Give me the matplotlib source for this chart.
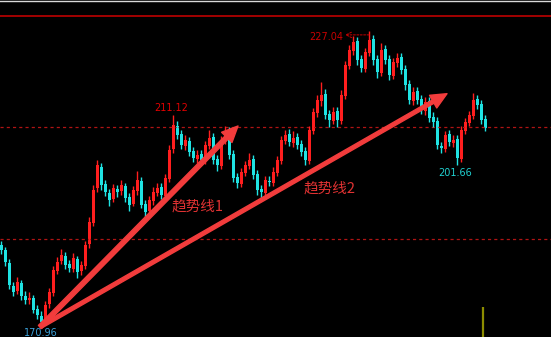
import numpy as np
import matplotlib
matplotlib.use('Agg')
from matplotlib import pyplot as plt
from matplotlib.lines import Line2D

# K线数据 (开, 收, 高, 低)
opens = [186.5, 185.6, 183.1, 178.7, 177.8, 179.3, 176.9, 176.0, 176.4, 174.3,
         173.1, 172.2, 175.3, 177.4, 181.6, 183.5, 184.4, 182.9, 182.0, 183.8,
         181.6, 182.5, 186.7, 190.7, 197.2, 201.3, 198.1, 196.3, 195.2, 197.1,
         196.7, 197.7, 195.6, 194.3, 196.7, 198.6, 194.3, 192.9, 194.8, 196.3,
         197.5, 195.8, 199.0, 204.7, 209.0, 207.5, 205.2, 206.2, 204.3, 202.8,
         203.7, 202.4, 205.2, 207.0, 202.8, 201.5, 206.2, 208.1, 203.7, 199.4,
         198.0, 200.1, 201.5, 202.8, 200.0, 197.1, 196.3, 198.6, 198.2, 200.1,
         202.4, 206.2, 207.5, 205.8, 206.9, 205.6, 204.3, 202.4, 208.1, 211.5,
         213.8, 215.1, 211.3, 210.0, 211.9, 210.0, 214.7, 220.4, 223.2, 225.2,
         221.7, 219.8, 222.9, 225.5, 221.7, 219.1, 223.6, 221.7, 218.5, 221.0,
         222.1, 219.9, 217.0, 213.8, 215.7, 214.2, 211.9, 213.8, 210.8, 210.0,
         205.2, 204.7, 207.5, 205.8, 206.6, 202.8, 208.1, 209.6, 210.9, 214.2,
         213.2, 210.4]
closes = [185.5, 183.3, 178.9, 177.6, 179.5, 176.8, 176.1, 176.5, 174.2, 173.3,
          171.9, 175.1, 177.6, 181.8, 183.3, 184.6, 182.7, 182.1, 184.0, 181.4,
          182.7, 186.5, 190.9, 196.9, 201.7, 197.9, 196.5, 195.0, 197.3, 196.5,
          197.9, 195.4, 194.1, 196.9, 198.8, 194.1, 192.7, 195.0, 196.5, 197.3,
          196.0, 199.2, 204.5, 209.2, 207.3, 205.4, 206.4, 204.1, 203.0, 203.5,
          202.6, 205.4, 206.8, 202.6, 201.7, 206.4, 207.9, 203.5, 199.2, 198.2,
          200.3, 201.7, 202.6, 199.8, 196.9, 196.5, 198.8, 198.4, 200.3, 202.6,
          206.4, 207.3, 206.0, 206.8, 205.4, 204.1, 202.6, 208.3, 211.7, 214.0,
          214.9, 211.1, 210.2, 211.7, 210.2, 214.9, 220.6, 223.4, 225.0, 221.5,
          220.0, 223.1, 225.3, 221.5, 219.3, 223.4, 221.5, 218.7, 221.2, 221.9,
          219.7, 216.8, 214.0, 215.5, 214.0, 212.1, 213.6, 210.6, 209.8, 205.4,
          204.9, 207.3, 206.0, 206.4, 203.0, 208.3, 209.8, 211.1, 214.0, 213.0,
          210.2, 208.7]
highs = [187.3, 186.2, 183.8, 179.5, 180.4, 179.9, 177.8, 177.6, 177.0, 175.2,
         174.0, 175.9, 178.3, 182.5, 184.2, 185.8, 185.1, 183.7, 184.9, 184.4,
         183.5, 187.3, 191.8, 197.8, 202.6, 202.0, 198.9, 197.1, 198.1, 197.9,
         198.8, 198.3, 196.3, 197.6, 200.6, 199.3, 195.1, 195.8, 197.4, 198.2,
         198.3, 200.0, 205.4, 211.12, 210.0, 208.2, 207.3, 207.0, 205.1, 204.4,
         204.5, 206.2, 208.3, 207.8, 203.5, 207.2, 209.0, 208.8, 204.4, 200.2,
         201.1, 202.5, 204.0, 203.5, 200.7, 197.9, 199.6, 199.5, 201.2, 203.4,
         207.2, 208.3, 208.4, 208.1, 207.7, 206.4, 205.0, 209.1, 212.5, 215.0,
         217.4, 216.0, 212.0, 212.6, 212.7, 215.8, 221.4, 224.3, 226.0, 225.9,
         222.4, 223.9, 227.04, 226.3, 222.4, 224.7, 224.4, 222.5, 222.0, 222.8,
         222.9, 220.6, 217.7, 216.5, 216.4, 214.9, 214.5, 214.5, 211.6, 210.7,
         206.0, 208.1, 208.2, 207.3, 207.3, 209.0, 210.6, 211.9, 215.3, 214.9,
         213.9, 211.1]
lows = [184.8, 182.6, 178.2, 176.8, 177.2, 176.0, 175.3, 175.4, 173.6, 172.5,
        170.96, 171.6, 174.6, 176.9, 181.0, 182.9, 182.0, 181.3, 181.4, 180.3,
        180.8, 181.9, 186.0, 190.1, 196.5, 197.0, 195.7, 193.9, 194.6, 195.6,
        196.0, 194.6, 193.0, 193.8, 196.0, 193.5, 191.2, 192.2, 194.1, 195.7,
        195.2, 195.1, 198.4, 204.0, 206.5, 204.6, 204.5, 203.3, 202.2, 202.0,
        201.6, 201.8, 204.6, 201.8, 200.5, 200.9, 205.6, 202.7, 198.4, 197.3,
        197.4, 199.5, 200.9, 199.0, 195.9, 195.2, 195.7, 197.6, 197.6, 199.5,
        201.8, 205.6, 205.3, 205.1, 204.6, 203.4, 201.6, 201.8, 207.5, 210.8,
        212.9, 210.3, 208.8, 209.4, 208.9, 209.5, 214.1, 219.8, 222.5, 220.6,
        219.2, 219.2, 222.3, 220.6, 218.1, 218.6, 220.7, 217.8, 217.9, 220.3,
        218.9, 215.9, 213.2, 213.1, 213.2, 211.3, 211.2, 209.8, 208.9, 204.6,
        203.9, 204.1, 205.2, 205.1, 201.66, 202.2, 207.5, 209.0, 210.3, 212.2,
        209.4, 208.0]

# 标注
peak_labels = ['211.12', '227.04']
trough_labels = ['201.66', '170.96']
trend_names = ['趋势线1', '趋势线2']
ref_levels = [208.85, 187.63]   # 虚线
top_level = 229.88
marker_top = 174.8

o = np.array(opens)
c = np.array(closes)
h = np.array(highs)
l = np.array(lows)
x = np.arange(len(o))
up = c >= o
cols = np.where(up, '#ff1e1e', '#1fe3e3')

fig = plt.figure(figsize=(5.51, 3.37), dpi=100)
fig.patch.set_facecolor('black')
ax = fig.add_axes([0, 0, 1, 1])
ax.set_facecolor('black')
ax.set_xlim(-0.25, 137.5)
ax.set_ylim(169.06, 232.91)
ax.axis('off')

# 参考线
ax.axhline(top_level, color='#b00000', lw=1.3)
for lv in ref_levels:
    ax.axhline(lv, color='#b01414', lw=0.9, linestyle=(0, (2.5, 2.5)))

# K线
ax.vlines(x, l, h, colors=cols, lw=1.0)
body = np.maximum(np.abs(c - o), 0.2)
ax.bar(x, body, bottom=np.minimum(o, c), width=0.75, color=cols, linewidth=0)

# 趋势箭头
arrow_col = '#f23c3c'
ax.annotate('', xy=(59.25, 209.04), xytext=(x[10] - 0.25, l[10]),
            arrowprops=dict(arrowstyle='simple,head_length=1.15,head_width=1.05,tail_width=0.32',
                            color=arrow_col, mutation_scale=10, shrinkA=0, shrinkB=0))
ax.annotate('', xy=(111.5, 215.16), xytext=(x[10] - 0.25, l[10]),
            arrowprops=dict(arrowstyle='simple,head_length=1.15,head_width=1.05,tail_width=0.26',
                            color=arrow_col, mutation_scale=10, shrinkA=0, shrinkB=0))

cjk = ['Noto Sans CJK SC', 'DejaVu Sans']
ax.text(49.25, 193.7, trend_names[0], color='#e03232', fontsize=10.5, family=cjk,
        ha='center', va='center')
ax.text(82.25, 197.1, trend_names[1], color='#e03232', fontsize=10.5, family=cjk,
        ha='center', va='center')

# 高低点标注
ax.text(42.5, 212.45, peak_labels[0], color='#e00000', fontsize=7, ha='center', va='center')
ax.text(85.5, 225.9, peak_labels[1], color='#c80000', fontsize=7, ha='right', va='center')
ax.annotate('', xy=(86.0, 226.3), xytext=(92, 226.3),
            arrowprops=dict(arrowstyle='->', color='#c80000', lw=0.7, linestyle=(0, (2, 1.5)),
                            shrinkA=0, shrinkB=0))
ax.text(113.5, 200.13, trough_labels[0], color='#20d0d0', fontsize=7, ha='center', va='center')
ax.text(10, 169.75, trough_labels[1], color='#3aa0d8', fontsize=7, ha='center', va='center')

# 右下角竖线
ax.vlines(120.5, 169.06, marker_top, color='#8c8c00', lw=1.6)

fig.add_artist(Line2D([0, 1], [0.9985, 0.9985], color='#d8d8d8', lw=1))

fig.savefig('out.png', dpi=100, facecolor='black')
